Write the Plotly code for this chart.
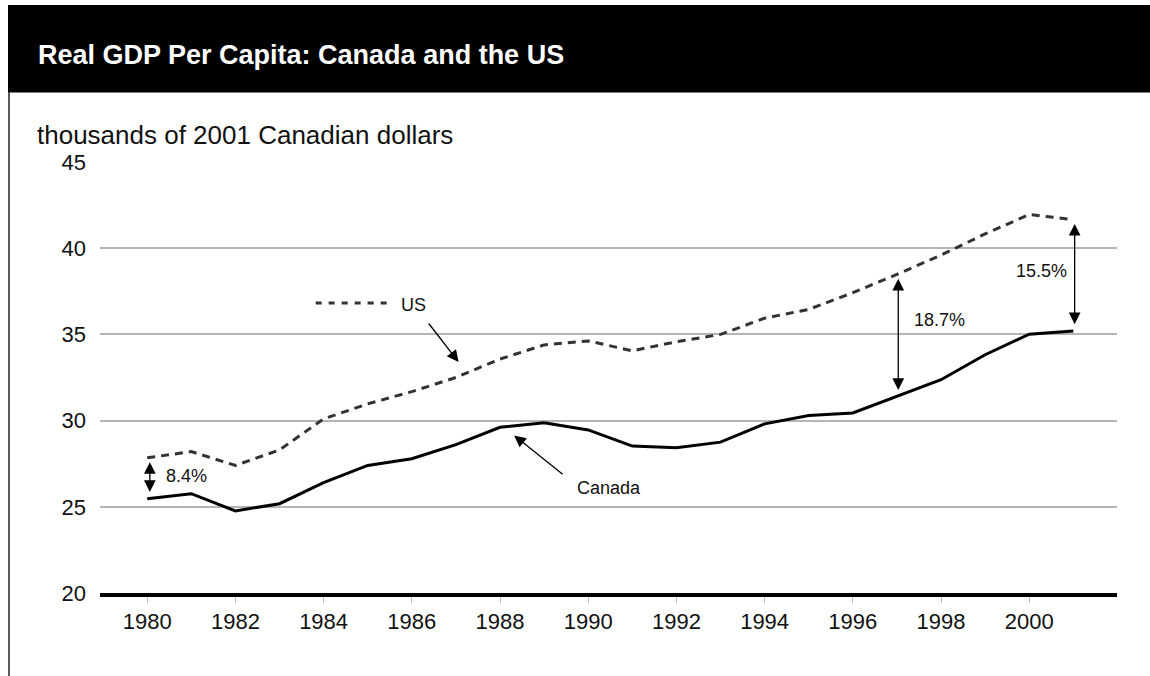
import plotly.graph_objects as go

# Real GDP per capita, thousands of 2001 Canadian dollars
years = list(range(1980, 2002))
us = [27.84, 28.20, 27.40, 28.30, 30.10, 30.97, 31.68, 32.50, 33.57, 34.39, 34.62,
      34.05, 34.57, 35.00, 35.94, 36.45, 37.42, 38.48, 39.60, 40.83, 41.95, 41.66]
canada = [25.47, 25.76, 24.76, 25.18, 26.40, 27.40, 27.79, 28.61, 29.61, 29.87, 29.46,
          28.52, 28.42, 28.75, 29.81, 30.29, 30.44, 31.39, 32.37, 33.82, 35.01, 35.20]

# Gap labels: (year, text)
gaps = [(1980, "8.4%"), (1997, "18.7%"), (2001, "15.5%")]

y_ticks = [20, 25, 30, 35, 40, 45]
x_ticks = list(range(1980, 2001, 2))

W, H = 1150, 676
ML, MR, MT, MB = 100, 33, 162, 83
PW, PH = W - ML - MR, H - MT - MB


def px(x):
    return (x - ML) / PW


def py(y):
    return (H - MB - y) / PH


FONT = "Liberation Sans, Arial, Helvetica, sans-serif"
ARROW = dict(showarrow=True, arrowhead=2, arrowsize=1.8, arrowwidth=1.3,
             arrowcolor="black")

fig = go.Figure()
fig.add_trace(go.Scatter(x=years, y=us, mode="lines", name="US",
                         line=dict(color="#333333", width=3, dash="8px,6px")))
fig.add_trace(go.Scatter(x=years, y=canada, mode="lines", name="Canada",
                         line=dict(color="#000000", width=3)))

shapes = [
    # black header band
    dict(type="rect", xref="paper", yref="paper", x0=px(8), x1=px(1160),
         y0=py(92.5), y1=py(5), fillcolor="black", line=dict(width=0), layer="above"),
    # left frame line
    dict(type="line", xref="paper", yref="paper", x0=px(9), x1=px(9),
         y0=py(92), y1=py(680), line=dict(color="#222222", width=1.5)),
    # legend key for the dashed US series
    dict(type="line", xref="x", yref="y", x0=1983.82, x1=1985.5, y0=36.82, y1=36.82,
         line=dict(color="#333333", width=3, dash="6px,7px")),
]

annotations = [
    dict(text="<b>Real GDP Per Capita: Canada and the US</b>", xref="paper", yref="paper",
         x=px(36), y=py(55), xanchor="left", yanchor="middle", showarrow=False,
         font=dict(family=FONT, size=27, color="white")),
    dict(text="thousands of 2001 Canadian dollars", xref="paper", yref="paper",
         x=px(35), y=py(135), xanchor="left", yanchor="middle", showarrow=False,
         font=dict(family=FONT, size=26, color="#111111")),
    dict(text="US", xref="x", yref="y", x=1985.72, y=36.69, xanchor="left",
         yanchor="middle", showarrow=False, font=dict(family=FONT, size=18, color="#111111")),
    dict(text="Canada", xref="x", yref="y", x=1990.46, y=26.07, xanchor="center",
         yanchor="middle", showarrow=False, font=dict(family=FONT, size=18, color="#111111")),
    # pointer arrows to each series
    dict(text="", x=1987.06, y=33.40, xref="x", yref="y", ax=-31, ay=-40, **ARROW),
    dict(text="", x=1988.32, y=29.14, xref="x", yref="y", ax=50, ay=40, **ARROW),
]

# double-headed gap arrows between the two series, with their labels
text_pos = {1980: (1980.37, 26.77), 1997: (1997.34, 35.82), 2001: (1999.65, 38.68)}
ix = {yr: i for i, yr in enumerate(years)}
for yr, label in gaps:
    i = ix[yr]
    top, bot = us[i] - 0.25, canada[i] + 0.3
    xa = yr + (0.06 if yr == 1980 else 0.03)
    fig.add_annotation(text="", x=xa, y=top, ax=xa, ay=bot, xref="x", yref="y",
                       axref="x", ayref="y", arrowside="end+start",
                       standoff=0, startstandoff=0, **ARROW)
    tx, ty = text_pos[yr]
    fig.add_annotation(text=label, x=tx, y=ty, xref="x", yref="y", xanchor="left",
                       yanchor="middle", showarrow=False,
                       font=dict(family=FONT, size=18, color="#111111"))

fig.update_layout(
    width=W, height=H, margin=dict(l=ML, r=MR, t=MT, b=MB, pad=0),
    paper_bgcolor="white", plot_bgcolor="white", showlegend=False,
    shapes=shapes, annotations=list(fig.layout.annotations) + annotations,
    font=dict(family=FONT, color="#111111"),
)
fig.update_xaxes(range=[1978.93, 2001.99], tickvals=x_ticks, showgrid=False,
                 zeroline=False, showline=True, linecolor="black", linewidth=4,
                 ticks="outside", ticklen=6, tickwidth=1, tickcolor="#bbbbbb",
                 tickfont=dict(family=FONT, size=22, color="#111111"))
fig.update_yaxes(range=[20, 45], tickvals=y_ticks, showgrid=True, gridcolor="#b5b5b5",
                 gridwidth=1.5, zeroline=False, showline=False, ticks="",
                 ticklabelstandoff=13,
                 tickfont=dict(family=FONT, size=22, color="#111111"))

fig.write_html("out.html")
